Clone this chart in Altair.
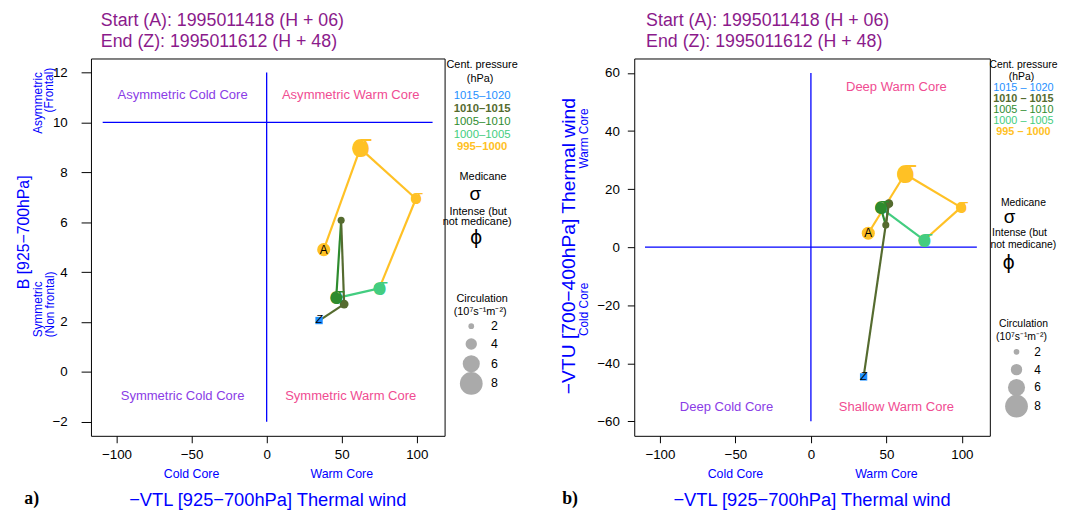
import math
import altair as alt
import pandas as pd

# ---------------- data ----------------
vtl = [38.0, 62.3, 99.4, 75.0, 46.3, 49.6, 51.6, 34.9]          # -VTL [925-700hPa]
b_param = [4.9, 8.96, 6.94, 3.35, 2.96, 6.08, 2.72, 2.06]        # B [925-700hPa]
vtu = [4.8, 25.2, 13.7, 2.4, 13.5, 7.6, 15.0, -44.7]             # -VTU [700-400hPa]
pressure_class = ["995–1000", "995–1000", "995–1000", "1000–1005",
                  "1005–1010", "1010–1015", "1010–1015", "1015–1020"]
circulation = [4.6, 5.5, 3.4, 4.0, 4.0, 2.5, 3.1, 2.0]
medicane = [False, True, True, True, True, False, False, False]
point_label = ["A", "", "", "", "", "", "", "Z"]

pressure_classes = ["1015–1020", "1010–1015", "1005–1010", "1000–1005", "995–1000"]
pressure_colors = ["#1E90FF", "#556B2F", "#2E8B2E", "#43CD80", "#FFC125"]
circ_legend = [2, 4, 6, 8]

x_ticks = [-100, -50, 0, 50, 100]
b_ticks = [-2, 0, 2, 4, 6, 8, 10, 12]
vtu_ticks = [-60, -40, -20, 0, 20, 40, 60]

# ---------------- styles ----------------
SANS = "Liberation Sans"
SERIF = "Liberation Serif"
BLUE = "#0000FF"
COLD = "#8A3CE6"
WARM = "#F04C92"
TITLE = "#8B1A8B"
GREY = "#AAAAAA"
H = 382
XDOM = [-117, 118.5]

cmap = dict(zip(pressure_classes, pressure_colors))
df = pd.DataFrame({
    "vtl": vtl, "b": b_param, "vtu": vtu, "cls": pressure_class,
    "circ": circulation, "med": medicane, "lab": point_label,
})
df["col"] = df["cls"].map(cmap)

seg = pd.DataFrame({
    "vtl": vtl[:-1], "vtl2": vtl[1:],
    "b": b_param[:-1], "b2": b_param[1:],
    "vtu": vtu[:-1], "vtu2": vtu[1:],
    "col": df["col"].iloc[:-1].values,
})

size_scale = alt.Scale(type="pow", exponent=2, domain=[0, 8], range=[0, 531])


def area(c):
    return 531 * (c / 8) ** 2


one = pd.DataFrame({"k": [0]})


def txt(text, x, y, size=12, color="black", angle=0, align="center",
        baseline="middle", weight="normal", font=SANS):
    kw = dict(text=text, fontSize=size, color=color, angle=angle, align=align,
              baseline=baseline, fontWeight=weight, font=font)
    return alt.Chart(one).mark_text(**kw).encode(x=alt.value(x), y=alt.value(y))


def panel(ycol, ydom, yticks, W, ytick_size, ylab_pad, qlines, qlabels,
          ytitles, legend, tag, tag_x, title_x):
    xs = alt.Scale(domain=XDOM, nice=False, zero=False)
    ys = alt.Scale(domain=ydom, nice=False, zero=False)
    xax = alt.Axis(values=x_ticks, title=None, tickSize=7, labelPadding=5,
                   format="d")
    yax = alt.Axis(values=yticks, title=None, tickSize=ytick_size,
                   labelPadding=ylab_pad, format="d")

    def X(f):
        return alt.X(f, type="quantitative", scale=xs, axis=xax)

    def Y(f):
        return alt.Y(f, type="quantitative", scale=ys, axis=yax)

    layers = []
    ql = pd.DataFrame(qlines, columns=["x", "x2", "y", "y2"])
    layers.append(alt.Chart(ql).mark_rule(color=BLUE, strokeWidth=1.3).encode(
        x=X("x"), x2="x2", y=Y("y"), y2="y2"))
    qt = pd.DataFrame(qlabels, columns=["x", "y", "t", "c"])
    layers.append(alt.Chart(qt).mark_text(font=SANS, fontSize=13.2).encode(
        x=X("x"), y=Y("y"), text="t:N", color=alt.Color("c:N", scale=None)))

    # trajectory segments
    layers.append(alt.Chart(seg).mark_rule(strokeWidth=2.2).encode(
        x=X("vtl"), x2="vtl2", y=Y(ycol), y2=ycol + "2",
        color=alt.Color("col:N", scale=None)))
    pts = df.iloc[:-1]
    layers.append(alt.Chart(pts).mark_circle(opacity=1).encode(
        x=X("vtl"), y=Y(ycol), color=alt.Color("col:N", scale=None),
        size=alt.Size("circ:Q", scale=size_scale, legend=None)))
    # medicane symbols
    for i in range(len(df)):
        if medicane[i]:
            d = 2 * math.sqrt(area(circulation[i]) / math.pi)
            fs = 1.9 * d
            layers.append(alt.Chart(df.iloc[[i]]).mark_text(
                text="σ", font=SANS, fontSize=fs, align="left",
                baseline="alphabetic", dx=-0.27 * fs, dy=0.26 * fs,
                color=df["col"].iloc[i]).encode(x=X("vtl"), y=Y(ycol)))
    # start / end markers
    layers.append(alt.Chart(df.iloc[[0]]).mark_text(
        text="A", font=SANS, fontSize=12, color="black").encode(
        x=X("vtl"), y=Y(ycol)))
    last = df.iloc[[-1]]
    layers.append(alt.Chart(last).mark_square(size=55, opacity=1).encode(
        x=X("vtl"), y=Y(ycol), color=alt.Color("col:N", scale=None)))
    layers.append(alt.Chart(last).mark_text(
        text="Z", font=SANS, fontSize=11, fontStyle="italic",
        color="black").encode(x=X("vtl"), y=Y(ycol)))

    # below x-axis core labels
    core = pd.DataFrame({"x": [-50, 50], "t": ["Cold Core", "Warm Core"]})
    layers.append(alt.Chart(core).mark_text(font=SANS, fontSize=12.5,
                                            color=BLUE).encode(
        x=X("x"), y=alt.value(H + 39), text="t:N"))
    layers.append(txt("−VTL [925−700hPa] Thermal wind", W / 2, H + 65,
                      size=18.5, color=BLUE))
    layers.append(txt(tag, tag_x, H + 64, size=18, weight="bold", font=SERIF))
    layers += ytitles
    layers.append(txt("Start (A): 1995011418 (H + 06)", title_x, -38,
                      size=18, color=TITLE, align="left"))
    layers.append(txt("End (Z):  1995011612 (H + 48)", title_x, -17,
                      size=18, color=TITLE, align="left"))
    layers += legend
    return alt.layer(*layers).properties(width=W, height=H)


def legend_layers(cx, ys, fs, item_fmt, circ_x, circ_ys, lab_x, med):
    out = [txt("Cent. pressure", cx, ys[0], size=fs),
           txt("(hPa)", cx - 2, ys[1], size=fs)]
    for k, (c, col) in enumerate(zip(pressure_classes, pressure_colors)):
        w = "bold" if c in ("995–1000", "1010–1015") else "normal"
        out.append(txt(item_fmt(c), cx, ys[2 + k], size=fs + 0.5, color=col,
                       weight=w))
    mx, my, sx, sy, ix1, iy1, ix2, iy2, px, py = med
    out.append(txt("Medicane", mx, my, size=fs))
    out.append(txt("σ", sx, sy, size=19))
    out.append(txt("Intense (but", ix1, iy1, size=fs))
    out.append(txt("not medicane)", ix2, iy2, size=fs))
    out.append(txt("ϕ", px, py, size=19, font="DejaVu Sans"))
    out.append(txt("Circulation", cx, ys[7], size=fs))
    out.append(txt("(10⁷s⁻¹m⁻²)", cx - 2, ys[8], size=fs))
    for c, y in zip(circ_legend, circ_ys):
        out.append(alt.Chart(one).mark_circle(color=GREY, opacity=1,
                                              size=area(c)).encode(
            x=alt.value(circ_x), y=alt.value(y)))
        out.append(txt(str(c), lab_x, y, size=fs + 1.5, align="left"))
    return out


# ---------------- left panel ----------------
WL = 358
left_ytitles = [
    txt("B [925−700hPa]", -68, 176, size=16, color=BLUE, angle=270),
    txt("Asymmetric", -54, 45, size=12, color=BLUE, angle=270),
    txt("(Frontal)", -42, 32, size=12, color=BLUE, angle=270),
    txt("Symmetric", -54, 254, size=12, color=BLUE, angle=270),
    txt("(Non frontal)", -41, 249, size=12, color=BLUE, angle=270),
]
left_legend = legend_layers(
    396, [7, 21, 38, 51, 64, 77, 90, 244, 257], 11, lambda c: c,
    385, [271, 289, 309, 329], 405,
    (397, 120, 389, 137, 392, 155, 391, 166, 390, 182))
left = panel("b", [-2.56, 12.56], b_ticks, WL, 10, 14,
             [(-109.2, 110.5, 10, 10), (0, 0, -2, 12)],
             [(-56, 11.09, "Asymmetric Cold Core", COLD),
              (56, 11.09, "Asymmetric Warm Core", WARM),
              (-56, -0.95, "Symmetric Cold Core", COLD),
              (56, -0.95, "Symmetric Warm Core", WARM)],
             left_ytitles, left_legend, "a)", -60, 10)

# ---------------- right panel ----------------
WR = 360
right_ytitles = [
    txt("−VTU [700−400hPa] Thermal wind", -66, 190, size=19.5, color=BLUE, angle=270),
    txt("Warm Core", -51, 81, size=12, color=BLUE, angle=270),
    txt("Cold Core", -51, 254, size=12, color=BLUE, angle=270),
]
right_legend = legend_layers(
    394, [7, 19, 30, 41, 52, 63, 74, 269, 282], 10.5,
    lambda c: c.replace("–", " – "),
    387, [297, 315, 333, 352], 405,
    (394, 146, 380, 161, 390, 177, 394, 189, 379, 207))
right = panel("vtu", [-65, 65], vtu_ticks, WR, 7, 8,
              [(-109.9, 109.9, 0, 0), (0, 0, -60, 60)],
              [(56.6, 55.1, "Deep Warm Core", WARM),
               (-55.9, -55.1, "Deep Cold Core", COLD),
               (56.6, -55.1, "Shallow Warm Core", WARM)],
              right_ytitles, right_legend, "b)", -65, 12)

chart = alt.hconcat(left, right, spacing=40).properties(
    padding={"left": 7, "top": 0, "right": 0, "bottom": 0}
).configure_view(stroke="black", strokeWidth=1).configure_axis(
    grid=False, domain=False, tickColor="black", labelColor="black",
    labelFont=SANS, labelFontSize=13.5, tickWidth=1
)

chart.save("out.html", embed_options={"renderer": "svg", "actions": False})
